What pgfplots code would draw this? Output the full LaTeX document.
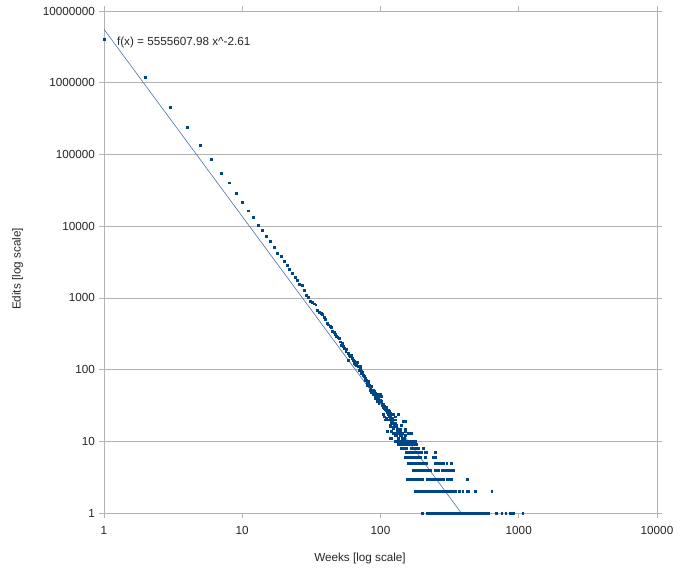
\documentclass[border=0pt]{standalone}
\usepackage{fontspec}
\setmainfont{Liberation Sans}
\usepackage{pgfplots}
\pgfplotsset{compat=1.18}
\definecolor{ser}{HTML}{004586}
\definecolor{trend}{HTML}{4A72A8}
\definecolor{gridc}{HTML}{B3B3B3}
\begin{document}
\fontsize{11.7bp}{14bp}\selectfont
\begin{tikzpicture}
\useasboundingbox (-104bp,-56bp) rectangle (584bp,513bp);
\begin{axis}[
  scale only axis, width=553bp, height=502bp,
  xmode=log, ymode=log,
  xmin=1, xmax=10000, ymin=1, ymax=10000000,
  axis line style={gridc},
  xtick={1,10,100,1000,10000},
  xticklabels={1,10,100,1000,10000},
  ytick={1,10,100,1000,10000,100000,1000000,10000000},
  yticklabels={1,10,100,1000,10000,100000,1000000,10000000},
  xminorticks=false, yminorticks=false,
  tick align=outside, major tick length=5bp,
  tick style={gridc, line width=0.6bp},
  ymajorgrids, major grid style={gridc, line width=0.6bp},
  tick label style={font=\fontsize{11.7bp}{14bp}\selectfont, text=black!85},
  xticklabel style={yshift=-4bp},
  /pgf/number format/assume math mode=true,
  clip=false,
]
\addplot[trend, line width=0.6bp] coordinates {(1,5555607.98) (383.9,1)};
\addplot[ser, only marks, mark=square*, mark size=0.95bp, mark options={draw=none, fill=ser}] coordinates {
(1,4000000) (2,1200000) (3,460000) (4,240000) (5,134000) (6,86500) (7,55000) (8,40400) (9,28800) (10,21700)
(11,16400) (12,13300) (13,10400) (14,8770) (15,7200) (16,6100) (17,5070) (18,4230) (19,3800) (20,3270)
(21,2850) (22,2530) (23,2200) (24,1960) (25,1780) (26,1550) (27,1510) (28,1290) (29,1090) (30,1030)
(31,900) (32,874) (33,830) (34,804) (35,676) (36,640) (37,610) (38,596) (39,540) (40,503)
(41,448) (42,423) (43,400) (44,385) (45,345) (46,330) (47,315) (48,290) (49,280) (50,273)
(51,245) (52,220) (53,230) (54,209) (55,198) (56,178) (57,190) (58,169) (59,160) (60,151)
(61,158) (62,144) (63,136) (64,122) (65,130) (66,120) (67,116) (68,125) (69,110) (70,98)
(71,104) (72,95) (73,89) (74,92) (75,84) (76,80) (77,76) (78,70) (79,72) (80,66)
(81,64) (82,68) (83,61) (84,58) (85,55) (86,58) (87,52) (88,52) (89,48) (90,50)
(91,47) (92,44) (93,42) (94,45) (95,40) (96,40) (97,38) (98,42) (99,38) (100,37)
(58,136) (71,110) (86,49) (99,46) (102,42) (80,61) (84,52) (88,46) (92,40) (95,36) (97,34)
(101,36) (102,34) (103,32) (104,30) (105,33) (106,29) (107,31) (108,28) (109,27) (110,30)
(111,26) (112,25) (113,27) (114,24) (115,22) (116,26) (117,23)
(104,24) (106,22) (111,25) (117,25) (124,24) (134,24) (108,20) (114,20) (120,18) (127,20)
(117,17) (120,16) (124,16) (131,15) (138,14) (142,17) (111,14) (124,13) (134,13) (144,13)
(159,13) (168,13) (120,11) (134,11) (121,21) (128,22) (150,19) (164,13) (110,21) (128,18)
(145,19) (117,16) (124,15) (131,16) (138,15) (150,15) (120,14) (127,13) (134,14) (138,13)
(150,14) (117,11) (128,12) (131,12) (134,11) (140,12) (150,12)
(118,21) (119,19) (121,19) (122,18) (123,20) (125,17) (126,16) (129,17) (130,16) (132,15)
(133,14) (135,15) (136,14) (137,13) (139,12) (141,12) (143,11) (146,11) (148,11)
(127,10) (130,10) (133,10) (137,10) (141,10) (145,10) (149,10) (154,10) (158,10) (163,10) (170,10) (177,10)
(134,9) (138,9) (142,9) (146,9) (150,9) (155,9) (160,9) (165,9) (170,9) (176,9) (182,9)
(142,8) (146,8) (150,8) (154,8) (168,8) (172,8) (177,8) (187,8) (204,8)
(154,7) (158,7) (162,7) (168,7) (172,7) (177,7) (182,7) (187,7) (198,7) (210,7) (216,7) (248,7)
(150,6) (155,6) (160,6) (164,6) (172,6) (177,6) (182,6) (188,6) (193,6) (210,6) (241,6) (248,6)
(159,5) (162,5) (166,5) (170,5) (175,5) (180,5) (187,5) (198,5) (204,5) (210,5) (216,5) (248,5) (255,5) (262,5) (270,5) (284,5) (301,5) (327,5)
(172,4) (175,4) (178,4) (181,4) (185,4) (190,4) (195,4) (200,4) (204,4) (207,4) (211,4) (214,4) (218,4) (222,4) (226,4) (230,4) (248,4) (255,4) (262,4) (277,4) (284,4) (292,4) (309,4) (327,4) (336,4)
(156,3) (159,3) (161,3) (164,3) (167,3) (170,3) (173,3) (176,3) (179,3) (182,3) (185,3) (188,3) (191,3) (195,3) (198,3) (202,3)
(216,3) (220,3) (223,3) (227,3) (231,3) (235,3) (239,3) (243,3) (247,3) (251,3) (255,3) (260,3) (264,3) (269,3) (273,3) (278,3) (283,3) (301,3) (309,3) (327,3) (424,3)
(178,2) (181,2) (184,2) (187,2) (190,2) (193,2) (197,2) (200,2) (203,2) (207,2) (210,2) (214,2) (217,2) (221,2) (225,2) (228,2) (232,2) (236,2) (240,2) (244,2) (248,2)
(252,2) (257,2) (261,2) (265,2) (270,2) (274,2) (279,2) (284,2) (289,2) (294,2) (299,2) (304,2) (309,2) (314,2) (319,2) (325,2) (330,2) (336,2) (341,2) (346,2)
(372,2) (393,2) (422,2) (432,2) (483,2) (637,2)
(199,1) (218,1) (222,1) (225,1) (229,1) (233,1) (237,1) (241,1) (245,1) (249,1) (253,1) (257,1) (262,1) (266,1) (271,1) (275,1) (280,1) (285,1) (290,1) (295,1) (300,1)
(305,1) (310,1) (315,1) (320,1) (326,1) (331,1) (337,1) (343,1) (349,1) (355,1) (361,1) (367,1) (373,1) (379,1) (386,1) (392,1) (399,1) (405,1) (412,1) (419,1)
(426,1) (434,1) (441,1) (448,1) (456,1) (464,1) (472,1) (480,1) (488,1) (496,1) (504,1) (513,1) (521,1) (530,1) (539,1) (548,1) (558,1) (567,1) (577,1) (587,1) (597,1)
(692,1) (753,1) (805,1) (865,1) (914,1) (1068,1)
};
\end{axis}
\node[anchor=west, text=black!85] at (9bp,471bp) {f(x) = 5555607.98 x\^{}-2.61};
\node[text=black!85] at (256bp,-45bp) {Weeks [log scale]};
\node[rotate=90, text=black!85] at (-86.5bp,244bp) {Edits [log scale]};
\end{tikzpicture}
\end{document}
